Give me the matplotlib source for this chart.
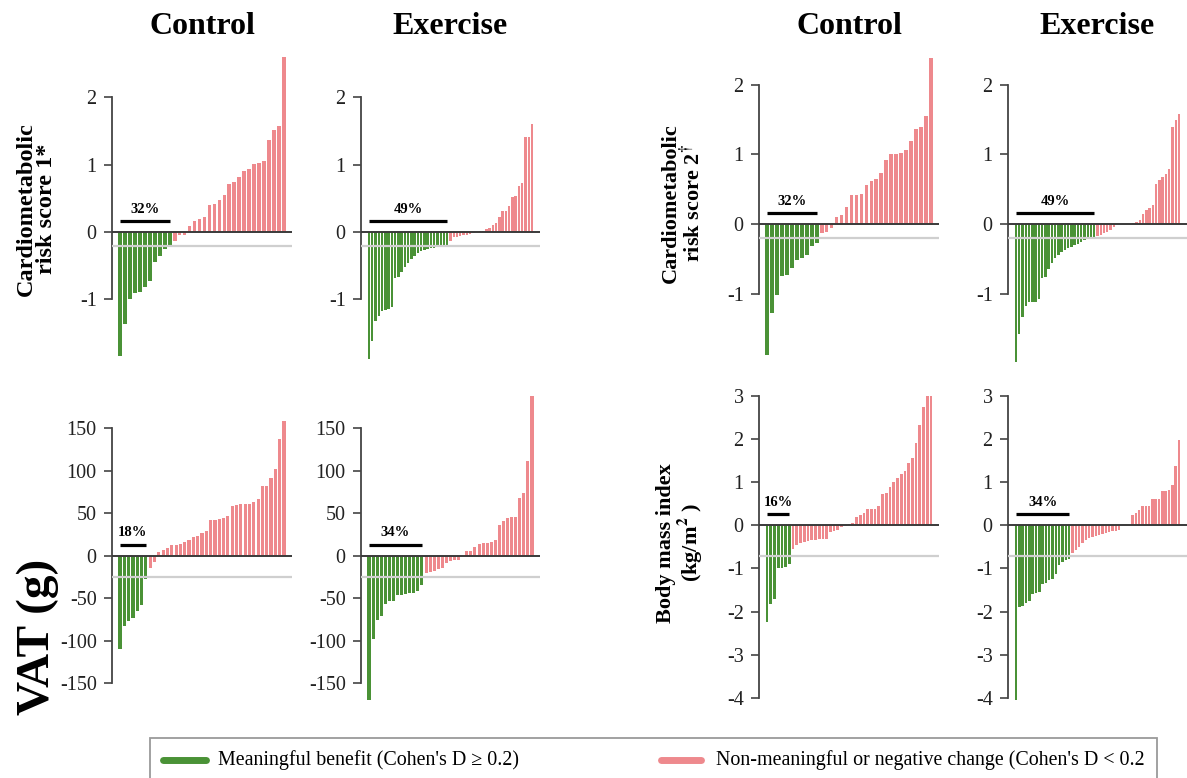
import matplotlib
matplotlib.use("Agg")
from matplotlib import pyplot as plt
from matplotlib import transforms
from matplotlib.patches import Rectangle
from matplotlib.lines import Line2D

# individual changes, sorted
cmr1_control = [-1.84, -1.36, -0.99, -0.90, -0.89, -0.81, -0.72, -0.44, -0.36, -0.25, -0.21,
                -0.13, -0.05, -0.05, 0.09, 0.16, 0.20, 0.23, 0.40, 0.42, 0.48, 0.55, 0.71,
                0.75, 0.82, 0.90, 0.93, 1.01, 1.03, 1.05, 1.36, 1.52, 1.58, 2.60]
cmr1_exercise = [-1.89, -1.62, -1.32, -1.24, -1.17, -1.16, -1.14, -1.11, -0.68, -0.67, -0.59,
                 -0.52, -0.46, -0.40, -0.35, -0.31, -0.28, -0.27, -0.25, -0.24, -0.23, -0.22,
                 -0.22, -0.21, -0.21,
                 -0.13, -0.08, -0.07, -0.06, -0.05, -0.04, -0.03, -0.02, 0.00, 0.01, 0.02,
                 0.04, 0.06, 0.10, 0.13, 0.22, 0.31, 0.31, 0.38, 0.52, 0.54, 0.68, 0.73,
                 1.41, 1.41, 1.60]
cmr2_control = [-1.88, -1.28, -1.02, -0.75, -0.73, -0.63, -0.51, -0.48, -0.45, -0.32, -0.27,
                -0.13, -0.12, -0.05, 0.10, 0.13, 0.24, 0.42, 0.42, 0.43, 0.56, 0.62, 0.65,
                0.74, 0.92, 1.00, 1.01, 1.02, 1.07, 1.20, 1.36, 1.40, 1.55, 2.39]
cmr2_exercise = [-1.98, -1.58, -1.34, -1.17, -1.12, -1.12, -1.12, -1.08, -0.78, -0.76, -0.65,
                 -0.56, -0.49, -0.45, -0.40, -0.37, -0.35, -0.33, -0.30, -0.28, -0.25, -0.23,
                 -0.22, -0.22, -0.21,
                 -0.17, -0.15, -0.13, -0.12, -0.08, -0.04, 0.0, 0.0, 0.0, 0.0, 0.0, 0.02,
                 0.03, 0.06, 0.14, 0.20, 0.23, 0.27, 0.58, 0.64, 0.68, 0.72, 0.79, 1.40,
                 1.50, 1.58]
vat_control = [-110, -83, -77, -74, -65, -58, -27, -15, -8, 4, 7, 9, 12, 12, 14, 16, 19, 22,
               23, 27, 29, 42, 42, 43, 44, 47, 58, 60, 61, 61, 61, 63, 67, 82, 82, 91, 102,
               137, 158]
vat_exercise = [-170, -98, -76, -71, -57, -54, -53, -46, -46, -45, -44, -44, -42, -34,
                -21, -19, -18, -16, -14, -9, -6, -5, -5, 0, 5, 6, 10, 14, 15, 15, 16, 19,
                36, 41, 44, 45, 46, 68, 74, 112, 188]
bmi_control = [-2.25, -1.83, -1.71, -1.00, -0.98, -0.96, -0.89,
               -0.55, -0.45, -0.41, -0.38, -0.36, -0.34, -0.33, -0.32, -0.32, -0.31, -0.16,
               -0.12, -0.10, -0.03, -0.01, 0.04, 0.05, 0.20, 0.24, 0.28, 0.37, 0.38, 0.38,
               0.45, 0.73, 0.74, 0.90, 1.00, 1.10, 1.20, 1.25, 1.45, 1.56, 1.92, 2.33, 2.75,
               3.00, 3.00]
bmi_exercise = [-4.05, -1.90, -1.86, -1.80, -1.75, -1.60, -1.57, -1.55, -1.35, -1.34, -1.26,
                -1.25, -1.12, -0.91, -0.84, -0.81, -0.78,
                -0.65, -0.58, -0.50, -0.40, -0.35, -0.30, -0.28, -0.25, -0.22, -0.20, -0.18,
                -0.16, -0.14, -0.12, -0.10, 0.0, 0.0, 0.0, 0.25, 0.28, 0.36, 0.45, 0.45,
                0.46, 0.60, 0.61, 0.62, 0.80, 0.80, 0.82, 0.93, 1.38, 1.98]

# Cohen's D 0.2 cut-off in the units of each outcome
cmr_cut = -0.2
vat_cut = -25
bmi_cut = -0.72

cmr_ticks = [-1, 0, 1, 2]
vat_ticks = [-150, -100, -50, 0, 50, 100, 150]
bmi_ticks = [-4, -3, -2, -1, 0, 1, 2, 3]

column_titles = ["Control", "Exercise", "Control", "Exercise"]
legend_labels = ["Meaningful benefit (Cohen's D \u2265 0.2)",
                 "Non-meaningful or negative change (Cohen's D < 0.2"]

GREEN = "#4a9236"
PINK = "#ee898d"
W, H = 1187, 778

plt.rcParams["font.family"] = ["Liberation Serif", "DejaVu Serif"]
plt.rcParams["mathtext.fontset"] = "stix"
plt.rcParams["mathtext.default"] = "bf"
plt.rcParams["axes.unicode_minus"] = False


def px_rect(left, top, right, bottom):
    return [left / W, 1 - bottom / H, (right - left) / W, (bottom - top) / H]


def draw_panel(fig, rect, values, cut, ticks, ylim):
    ax = fig.add_axes(rect)
    n = len(values)
    colors = [GREEN if v <= cut else PINK for v in values]
    ax.bar(range(n), values, width=0.74, color=colors, linewidth=0, zorder=2)

    step = (rect[2] * W - 16) / (n - 1)
    ax.set_xlim(-8 / step, n - 1 + 8 / step)
    ax.set_ylim(*ylim)
    ax.axhline(cut, color="#cfcfcf", lw=1.6, zorder=3)
    ax.axhline(0, color="#3a3a3a", lw=1.4, zorder=4)

    for side in ["top", "right", "bottom"]:
        ax.spines[side].set_visible(False)
    ax.spines["left"].set_bounds(ticks[0], ticks[-1])
    ax.spines["left"].set_color("#444444")
    ax.spines["left"].set_linewidth(1.3)
    ax.set_xticks([])
    ax.set_yticks(ticks)
    ax.tick_params(axis="y", length=6, width=1.2, color="#444444",
                   labelsize=14.5, labelcolor="#222222", pad=5)

    n_green = sum(1 for v in values if v <= cut)
    pct = round(100 * n_green / n)
    line_tr = transforms.offset_copy(ax.transData, fig, y=11, units="dots")
    ax.plot([0, n_green - 1], [0, 0], transform=line_tr, color="black", lw=2.3,
            solid_capstyle="butt", zorder=5)
    text_tr = transforms.offset_copy(ax.transData, fig, y=23, units="dots")
    ax.text((n_green - 1) / 2, 0, f"{pct}%", transform=text_tr, ha="center",
            va="center", fontsize=10.5, fontweight="bold", zorder=5)
    return ax


fig = plt.figure(figsize=(W / 100, H / 100), dpi=100)

columns = [(112, 292), (361, 540), (759, 939), (1008, 1187)]
draw_panel(fig, px_rect(112, 57, 292, 360), cmr1_control, cmr_cut, cmr_ticks, (-1.9, 2.6))
draw_panel(fig, px_rect(361, 57, 540, 360), cmr1_exercise, cmr_cut, cmr_ticks, (-1.9, 2.6))
draw_panel(fig, px_rect(759, 57, 939, 362), cmr2_control, cmr_cut, cmr_ticks, (-1.98, 2.4))
draw_panel(fig, px_rect(1008, 57, 1187, 362), cmr2_exercise, cmr_cut, cmr_ticks, (-1.98, 2.4))
draw_panel(fig, px_rect(112, 396, 292, 700), vat_control, vat_cut, vat_ticks, (-170, 188))
draw_panel(fig, px_rect(361, 396, 540, 700), vat_exercise, vat_cut, vat_ticks, (-170, 188))
draw_panel(fig, px_rect(759, 396, 939, 700), bmi_control, bmi_cut, bmi_ticks, (-4.05, 3.0))
draw_panel(fig, px_rect(1008, 396, 1187, 700), bmi_exercise, bmi_cut, bmi_ticks, (-4.05, 3.0))

for (left, right), title in zip(columns, column_titles):
    fig.text((left + right) / 2 / W, 1 - 27 / H, title, ha="center", va="center",
             fontsize=23, fontweight="bold")

# y labels
fig.text(36 / W, 1 - 209 / H, "Cardiometabolic\nrisk score 1*", rotation=90,
         ha="center", va="center", fontsize=17.5, fontweight="bold", linespacing=0.95)
fig.text(682 / W, 1 - 203 / H, "Cardiometabolic\nrisk score 2$^{\\dagger}$", rotation=90,
         ha="center", va="center", fontsize=16, fontweight="bold", linespacing=0.95)
fig.text(38 / W, 1 - 637 / H, "VAT (g)", rotation=90, ha="center", va="center",
         fontsize=34, fontweight="bold")
fig.text(680 / W, 1 - 543 / H, "Body mass index\n(kg/m$^2$ )", rotation=90,
         ha="center", va="center", fontsize=16, fontweight="bold", linespacing=0.95)

# legend box, cut by the bottom edge as in the source
fig.patches.append(Rectangle((150 / W, -0.05), (1157 - 150) / W, 0.05 + 1 - 738 / H,
                             transform=fig.transFigure, fill=False, edgecolor="#9a9a9a",
                             lw=1.3))
legend_y = 1 - 760 / H
for x0, x1, color, tx, label in [(163, 206, GREEN, 218, legend_labels[0]),
                                 (661, 701, PINK, 716, legend_labels[1])]:
    fig.lines.append(Line2D([x0 / W, x1 / W], [legend_y, legend_y], transform=fig.transFigure,
                            color=color, lw=5, solid_capstyle="round"))
    fig.text(tx / W, legend_y, label, ha="left", va="center", fontsize=14.4)

fig.savefig("out.png", dpi=100)
